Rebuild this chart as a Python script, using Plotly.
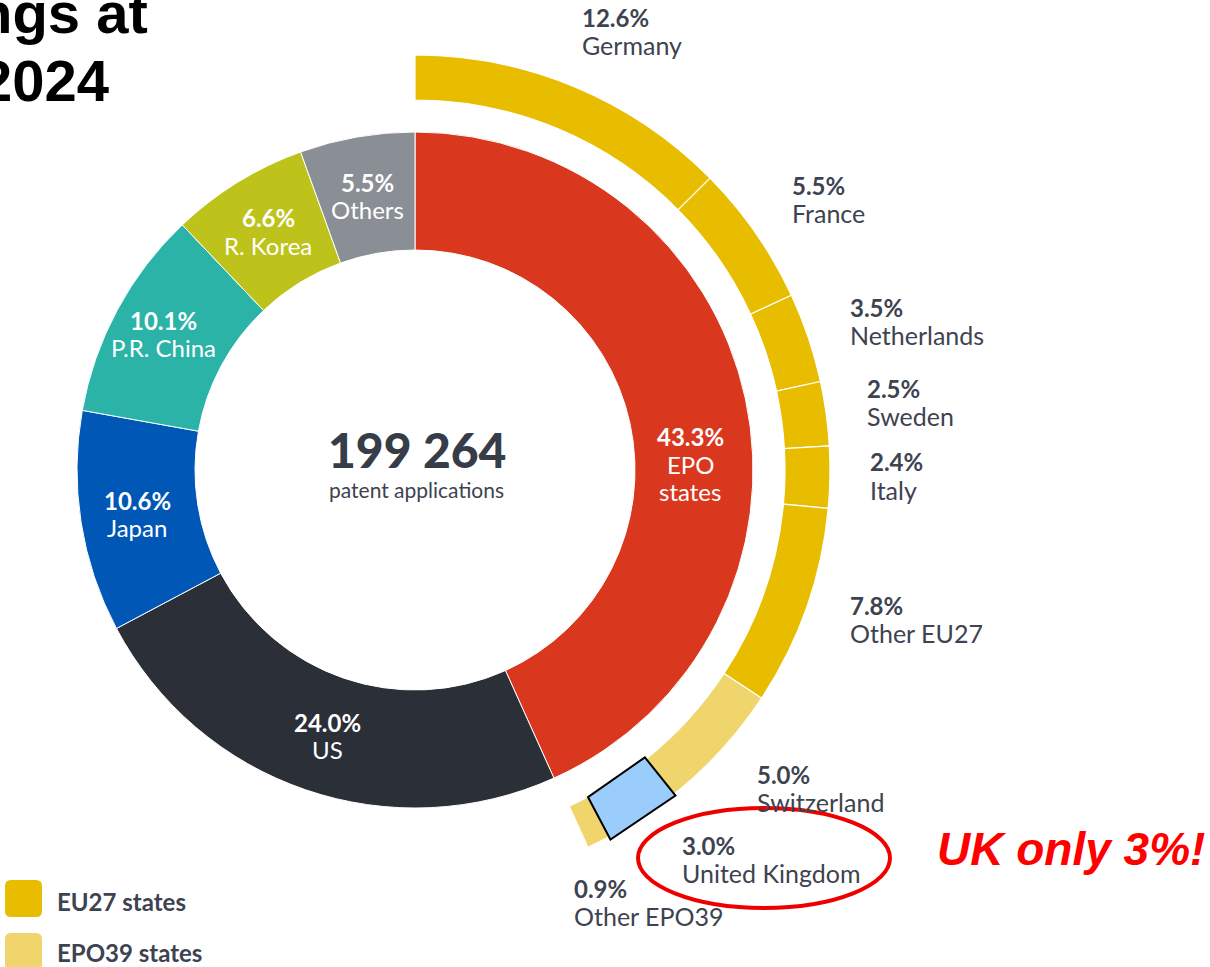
import numpy as np
import plotly.graph_objects as go

W, H = 1210, 967

# inner ring: origin of applications (share in %)
origin_names = ["EPO states", "US", "Japan", "P.R. China", "R. Korea", "Others"]
origin_share = [43.3, 24.0, 10.6, 10.1, 6.6, 5.5]

# outer ring: breakdown of the EPO states
epo_names = ["Germany", "France", "Netherlands", "Sweden", "Italy", "Other EU27",
             "Switzerland", "United Kingdom", "Other EPO39"]
epo_share = [12.6, 5.5, 3.5, 2.5, 2.4, 7.8, 5.0, 3.0, 0.9]
epo_group = ["EU27", "EU27", "EU27", "EU27", "EU27", "EU27", "EPO39", "EPO39", "EPO39"]

legend_groups = ["EU27 states", "EPO39 states"]
total_apps = "199 264"
total_caption = "patent applications"

origin_colors = ["#D9381E", "#2B2F37", "#0057B5", "#2BB3A7", "#BDC31B", "#8A8F96"]
group_colors = {"EU27": "#E8BD00", "EPO39": "#F0D46C"}
TXT = "#3D4350"
FONT = "Lato"


def px(x):
    return x / W


def py(y):
    return 1 - y / H


# pie geometry in pixels
cx, cy = 415, 470
r_in_out, r_in_hole = 338, 220
r_out_out, r_out_hole = 415, 370

tot = sum(origin_share)
rest = tot - sum(epo_share)

fig = go.Figure()
fig.add_trace(go.Pie(
    values=origin_share, labels=origin_names, sort=False, direction="clockwise",
    rotation=0, hole=r_in_hole / r_in_out, textinfo="none", hoverinfo="skip",
    marker=dict(colors=origin_colors, line=dict(color="white", width=1)),
    domain=dict(x=[px(cx - r_in_out), px(cx + r_in_out)],
                y=[py(cy + r_in_out), py(cy - r_in_out)]),
    showlegend=False,
))
fig.add_trace(go.Pie(
    values=epo_share + [rest], labels=epo_names + ["rest"], sort=False,
    direction="clockwise", rotation=0, hole=r_out_hole / r_out_out,
    textinfo="none", hoverinfo="skip",
    marker=dict(colors=[group_colors[g] for g in epo_group] + ["rgba(0,0,0,0)"],
                line=dict(color=["white"] * len(epo_share) + ["rgba(0,0,0,0)"],
                          width=[1.2] * len(epo_share) + [0])),
    domain=dict(x=[px(cx - r_out_out), px(cx + r_out_out)],
                y=[py(cy + 418), py(cy - 418)]),
    showlegend=False,
))

annotations = []


def label(x, y, text, size=24, color=TXT, bold=False, xanchor="left", family=FONT,
          italic=False, weight=None):
    if bold:
        text = f"<b>{text}</b>"
    if italic:
        text = f"<i>{text}</i>"
    font = dict(family=family, size=size, color=color)
    if weight:
        font["weight"] = weight
    annotations.append(dict(x=px(x), y=py(y), xref="paper", yref="paper", text=text,
                            showarrow=False, xanchor=xanchor, yanchor="middle", font=font))


# inner ring labels: (center x, first line y)
inner_pos = [(690, 437), (328, 722), (137, 500), (164, 320), (268, 218), (367, 182)]
for name, val, (x, y) in zip(origin_names, origin_share, inner_pos):
    label(x, y, f"{val:.1f}%", color="white", bold=True, xanchor="center")
    lines = ["EPO", "states"] if name == "EPO states" else [name]
    for i, ln in enumerate(lines):
        label(x, y + 27 * (i + 1), ln, color="white", xanchor="center")

# outer ring labels: (left x, pct line y)
outer_pos = [(580, 17), (790, 185), (848, 307), (865, 388), (868, 462),
             (848, 605), (755, 774), (680, 845), (572, 888)]
for name, val, (x, y) in zip(epo_names, epo_share, outer_pos):
    label(x, y, f"{val:.1f}%", bold=True)
    label(x, y + 28, name, size=25)

# centre
label(417, 450, total_apps, size=48, color="#363C48", xanchor="center", weight=900)
label(417, 489, total_caption, size=21, color=TXT, xanchor="center")

shapes = []

# legend
for i, (g, txt) in enumerate(zip(["EU27", "EPO39"], legend_groups)):
    x0, y0, s, rr = 5, 880 + 53 * i, 37, 6
    path = (f"M {px(x0 + rr)} {py(y0)} L {px(x0 + s - rr)} {py(y0)} "
            f"Q {px(x0 + s)} {py(y0)} {px(x0 + s)} {py(y0 + rr)} "
            f"L {px(x0 + s)} {py(y0 + s - rr)} Q {px(x0 + s)} {py(y0 + s)} {px(x0 + s - rr)} {py(y0 + s)} "
            f"L {px(x0 + rr)} {py(y0 + s)} Q {px(x0)} {py(y0 + s)} {px(x0)} {py(y0 + s - rr)} "
            f"L {px(x0)} {py(y0 + rr)} Q {px(x0)} {py(y0)} {px(x0 + rr)} {py(y0)} Z")
    shapes.append(dict(type="path", path=path, xref="paper", yref="paper",
                       fillcolor=group_colors[g], line=dict(width=0)))
    label(55, 901 + 51 * i, txt, size=24, bold=True)

# blue box over the UK slice of the outer ring
uk = epo_names.index("United Kingdom")
f0 = sum(epo_share[:uk]) / tot
f1 = f0 + epo_share[uk] / tot


def polar(f, r):
    a = 2 * np.pi * f
    return cx + r * np.sin(a), cy - r * np.cos(a)


corners = [polar(f0, 368), polar(f1, 370), polar(f1, 418), polar(f0, 417)]
path = "M " + " L ".join(f"{px(x)} {py(y)}" for x, y in corners) + " Z"
shapes.append(dict(type="path", path=path, xref="paper", yref="paper",
                   fillcolor="#9BCDFC", line=dict(color="black", width=2)))

# red ellipse around the UK label
shapes.append(dict(type="circle", xref="paper", yref="paper",
                   x0=px(638), x1=px(890), y0=py(908), y1=py(808),
                   line=dict(color="#EE0000", width=4)))

label(1207, 849, "UK only 3%!", size=46, color="#FF0000", bold=True, italic=True,
      xanchor="right", family="Liberation Sans, Arial")

# cropped title
label(150, 12, "ngs at", size=58, color="black", bold=True, xanchor="right",
      family="Liberation Sans, Arial")
label(111, 80, "2024", size=58, color="black", bold=True, xanchor="right",
      family="Liberation Sans, Arial")

fig.update_layout(
    width=W, height=H, margin=dict(l=0, r=0, t=0, b=0),
    paper_bgcolor="white", plot_bgcolor="white",
    annotations=annotations, shapes=shapes, showlegend=False,
)

fig.write_html("out.html", config={"displayModeBar": False},
               post_script="document.body.style.margin='0';")
